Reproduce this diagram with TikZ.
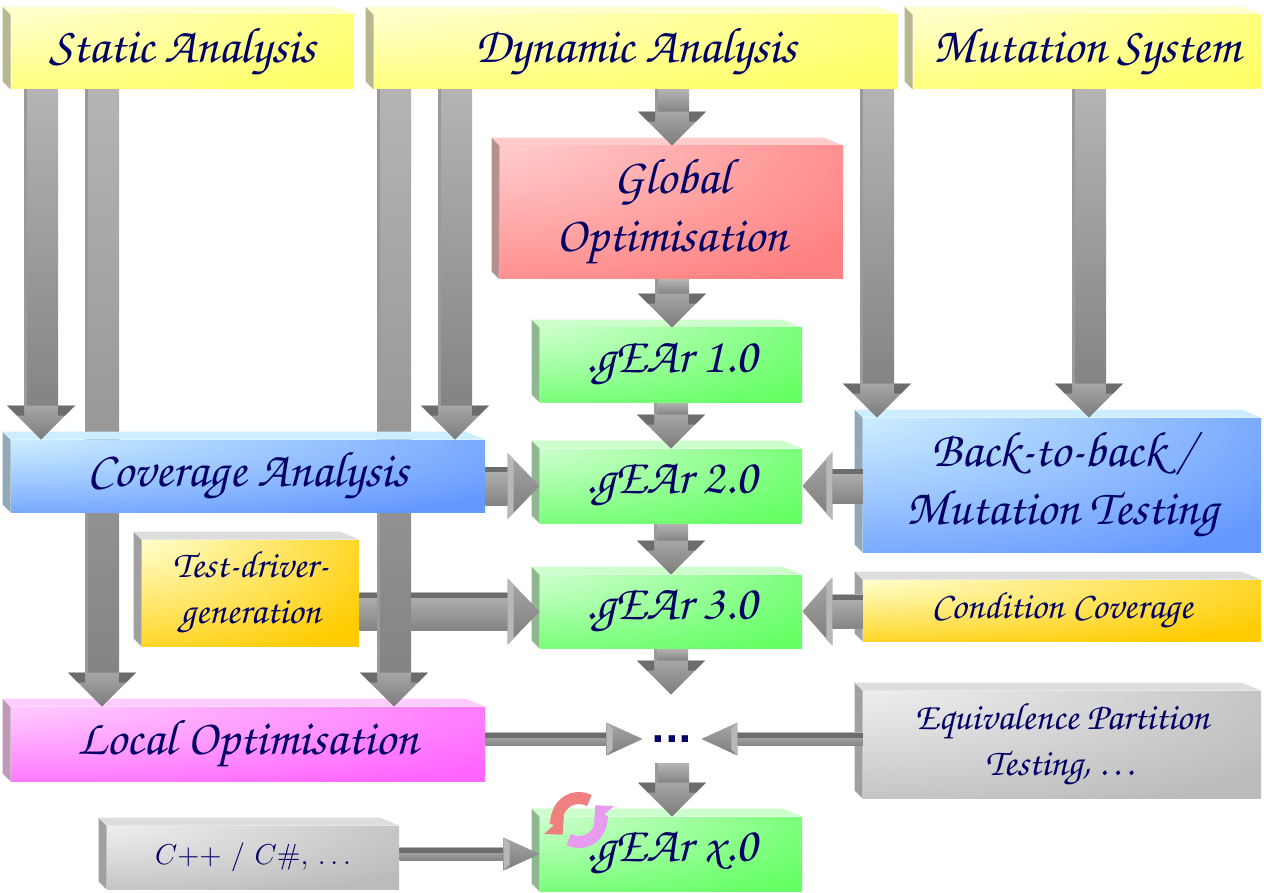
\documentclass[tikz,border=0pt]{standalone}
\usepackage[T1]{fontenc}
\usepackage{fontspec}
\usepackage{tikz}
\usetikzlibrary{calc,backgrounds,arrows.meta}

\newfontfamily\dotfont{DejaVu Sans}
\newcommand{\bigfont}{\fontsize{25}{29}\usefont{T1}{pzc}{mb}{it}}
\newcommand{\smallfont}{\fontsize{19}{23}\usefont{T1}{pzc}{mb}{it}}

\definecolor{ink}{HTML}{000066}
\definecolor{yellowlite}{HTML}{FFFFCC}\definecolor{yellowfull}{HTML}{FFFF66}\definecolor{yellowside}{HTML}{B8B890}
\definecolor{redlite}{HTML}{FFCCCC}\definecolor{redfull}{HTML}{FF8080}\definecolor{redside}{HTML}{B89090}
\definecolor{greenlite}{HTML}{CCFFCC}\definecolor{greenfull}{HTML}{66FF66}\definecolor{greenside}{HTML}{90B890}
\definecolor{bluelite}{HTML}{CCEEFF}\definecolor{bluefull}{HTML}{6699FF}\definecolor{blueside}{HTML}{90A8B8}
\definecolor{orangelite}{HTML}{FFFFCC}\definecolor{orangefull}{HTML}{FFCC00}
\definecolor{pinklite}{HTML}{FFCCFF}\definecolor{pinkfull}{HTML}{FF66FF}\definecolor{pinkside}{HTML}{C098B8}
\definecolor{silverlite}{HTML}{EEEEEE}\definecolor{silverfull}{HTML}{BBBBBB}
\definecolor{greyside}{HTML}{A0A0A0}\definecolor{greytop}{HTML}{DDDDDD}
\definecolor{shafttop}{HTML}{B4B4B4}\definecolor{shaftbot}{HTML}{848484}
\definecolor{headtop}{HTML}{A6A6A6}\definecolor{headbot}{HTML}{7C7C7C}
\definecolor{shoulder}{HTML}{6C6C6C}\definecolor{headback}{HTML}{B8B8B8}
\definecolor{shaftedge}{HTML}{9A9A9A}
\definecolor{spinred}{HTML}{F08080}\definecolor{spinpink}{HTML}{E89CF0}

\newcommand{\glowshading}[3]{\pgfdeclareradialshading{#1}{\pgfpoint{-35bp}{35bp}}{color(0bp)=(#2); color(10bp)=(#2); color(58bp)=(#3); color(150bp)=(#3)}}
\glowshading{yellowglow}{yellowlite}{yellowfull}
\glowshading{redglow}{redlite}{redfull}
\glowshading{greenglow}{greenlite}{greenfull}
\glowshading{blueglow}{bluelite}{bluefull}
\glowshading{orangeglow}{orangelite}{orangefull}
\glowshading{pinkglow}{pinklite}{pinkfull}
\glowshading{silverglow}{silverlite}{silverfull}

\tikzset{
  box/.style={inner sep=0pt, text=ink, align=center, font=\bigfont},
  small box/.style={box, font=\smallfont},
  glow/.style={shade, shading=#1},
  arrow shaft/.store in=\ashaft, arrow head/.store in=\ahead, arrow len/.store in=\alen,
  arrow shaft=8.5pt, arrow head=17pt, arrow len=17pt,
  wide/.style={arrow shaft=9.5pt, arrow head=16.5pt, arrow len=16pt},
  slim/.style={arrow shaft=3.25pt, arrow head=8.25pt, arrow len=18pt},
}

\newcommand{\faces}[3]{%
  \fill[#2] (#1.north west) -- ++(-4pt,4pt) -- ([shift={(-4pt,4pt)}]#1.south west) -- (#1.south west) -- cycle;
  \fill[#3] (#1.north west) -- ++(-4pt,4pt) -- ([shift={(-10pt,4pt)}]#1.north east) -- (#1.north east) -- cycle;}

\newcommand{\varrow}[3][]{%
  \begin{scope}[#1]
  \shade[top color=shafttop, bottom color=shaftbot] let \p1=#2, \p2=#3 in
    ({\x1-\ashaft},\y1) rectangle ({\x1+\ashaft},{\y2+\alen});
  \fill[shaftedge] let \p1=#2, \p2=#3 in ({\x1-\ashaft},\y1) rectangle ({\x1-\ashaft+1.5pt},{\y2+\alen});
  \shade[top color=headtop, bottom color=headbot] let \p1=#2, \p2=#3 in
    ({\x1-\ahead},{\y2+\alen}) -- ({\x1+\ahead},{\y2+\alen}) -- (\x1,\y2) -- cycle;
  \fill[shoulder] let \p1=#2, \p2=#3, \n2={5*\ahead/\alen} in
    ({\x1-\ahead},{\y2+\alen}) -- ({\x1-\ashaft},{\y2+\alen}) -- ({\x1-\ashaft},{\y2+\alen-5pt}) -- ({\x1-\ahead+\n2*1pt},{\y2+\alen-5pt}) -- cycle
    ({\x1+\ahead},{\y2+\alen}) -- ({\x1+\ashaft},{\y2+\alen}) -- ({\x1+\ashaft},{\y2+\alen-5pt}) -- ({\x1+\ahead-\n2*1pt},{\y2+\alen-5pt}) -- cycle;
  \end{scope}}

\newcommand{\harrow}[3][]{%
  \begin{scope}[#1]
  \shade[top color=shafttop, bottom color=shaftbot] let \p1=#2, \p2=#3, \n1={(\x2-\x1)/abs(\x2-\x1)}, \p3=({\x2-\n1*\alen},\y1) in
    (\x1,{\y1-\ashaft}) rectangle (\x3,{\y1+\ashaft});
  \fill[shoulder] let \p1=#2, \p2=#3, \n1={(\x2-\x1)/abs(\x2-\x1)}, \p3=({\x2-\n1*\alen},\y1) in
    (\x1,{\y1+\ashaft}) rectangle (\x3,{\y1+\ashaft-2.5pt});
  \shade[top color=headtop, bottom color=headbot] let \p1=#2, \p2=#3, \n1={(\x2-\x1)/abs(\x2-\x1)}, \p3=({\x2-\n1*\alen},\y1) in
    (\x3,{\y1+\ahead}) -- (\x2,\y1) -- (\x3,{\y1-\ahead}) -- cycle;
  \fill[headback] let \p1=#2, \p2=#3, \n1={(\x2-\x1)/abs(\x2-\x1)}, \p3=({\x2-\n1*\alen},\y1), \p4=({\x3+\n1*3pt},\y1) in
    (\x3,{\y1+\ahead}) -- (\x4,{\y1+\ahead-3pt}) -- (\x4,{\y1-\ahead+3pt}) -- (\x3,{\y1-\ahead}) -- cycle;
  \end{scope}}

\begin{document}
\begin{tikzpicture}[x=0.5pt,y=-0.5pt]
  \useasboundingbox (0,0) rectangle (1264,893);

  \node[box, glow=yellowglow, minimum width=171.5pt, minimum height=37pt] (static) at (182.5,52) {Static Analysis};
  \node[box, glow=yellowglow, minimum width=262pt, minimum height=37pt] (dyn) at (636,52) {Dynamic Analysis};
  \node[box, glow=yellowglow, minimum width=174pt, minimum height=37pt] (mut) at (1087,52) {Mutation System};
  \node[box, glow=redglow, minimum width=171.5pt, minimum height=66.5pt] (glob) at (671.5,212.5) {Global\\Optimisation};
  \node[box, glow=greenglow, minimum width=131pt, minimum height=37pt] (g1) at (671,365) {.gEAr 1.0};
  \node[box, glow=greenglow, minimum width=131pt, minimum height=37pt] (g2) at (671,486) {.gEAr 2.0};
  \node[box, glow=greenglow, minimum width=131pt, minimum height=36.5pt] (g3) at (671,611.5) {.gEAr 3.0};
  \node[box, glow=greenglow, minimum width=131pt, minimum height=37pt] (gx) at (671,854) {.gEAr x.0};
  \node[box, glow=blueglow, minimum width=237pt, minimum height=36pt] (cov) at (248,476) {Coverage Analysis};
  \node[box, glow=blueglow, minimum width=199pt, minimum height=67pt] (btb) at (1062,485) {Back-to-back /\\Mutation Testing};
  \node[small box, glow=orangeglow, minimum width=108.5pt, minimum height=53pt] (td) at (250.5,593) {Test-driver-\\generation};
  \node[small box, glow=orangeglow, minimum width=199pt, minimum height=30.5pt] (cond) at (1062,610.5) {Condition Coverage};
  \node[small box, glow=silverglow, minimum width=199pt, minimum height=53.5pt] (equiv) at (1062,744.5) {Equivalence Partition\\Testing, \ldots};
  \node[box, glow=pinkglow, minimum width=237pt, minimum height=37pt] (local) at (248,744) {Local Optimisation};
  \node[box, glow=silverglow, minimum width=146pt, minimum height=31.5pt, font=\fontsize{14.5}{18}\selectfont] (cpp) at (253,857.5) {$C$++ / $C$\#, $\ldots$};
  \node[text=ink, inner sep=0pt, minimum width=29pt, minimum height=34pt, font=\dotfont\bfseries\fontsize{18}{18}\selectfont] (dots) at (672,739) {...};

  \coordinate (spin) at (579,820);
  \draw[line width=6pt, spinred, -{Triangle[width=13pt,length=6.5pt]}] ([shift={(62:11pt)}]spin) arc[start angle=62, end angle=222, radius=11pt];
  \draw[line width=6pt, spinpink, -{Triangle[width=13pt,length=6.5pt]}] ([shift={(242:11pt)}]spin) arc[start angle=242, end angle=402, radius=11pt];

  \begin{scope}[on background layer]
    \fill[white] (0,0) rectangle (1264,893);
    \faces{static}{yellowside}{yellowlite}
    \faces{dyn}{yellowside}{yellowlite}
    \faces{mut}{yellowside}{yellowlite}
    \faces{glob}{redside}{redlite}
    \faces{g1}{greenside}{greenlite}
    \faces{g2}{greenside}{greenlite}
    \faces{g3}{greenside}{greenlite}
    \faces{gx}{greenside}{greenlite}
    \faces{btb}{blueside}{bluelite}
    \faces{td}{greyside}{greytop}
    \faces{cond}{greyside}{greytop}
    \faces{equiv}{greyside}{greytop}
    \faces{local}{pinkside}{pinklite}
    \faces{cpp}{greyside}{greytop}

    \harrow[wide]{(td.east |- g3.west)}{(g3.west)}
    \varrow{(static.south -| 102,0)}{(local.north -| 102,0)}
    \varrow{(dyn.south -| 394,0)}{(local.north -| 394,0)}
    \faces{cov}{blueside}{bluelite}

    \varrow{(static.south -| 41,0)}{(cov.north -| 41,0)}
    \varrow{(dyn.south -| 455,0)}{(cov.north -| 455,0)}
    \varrow{(dyn.south -| 672,0)}{(glob.north -| 672,0)}
    \varrow{(glob.south -| 672,0)}{(g1.north -| 672,0)}
    \varrow{(dyn.south -| 877,0)}{(btb.north -| 877,0)}
    \varrow{(mut.south -| 1089,0)}{(btb.north -| 1089,0)}
    \varrow{(g1.south)}{(g2.north)}
    \varrow{(g2.south)}{(g3.north)}
    \varrow{(g3.south)}{([yshift=5pt]dots.north)}
    \varrow{([yshift=5pt]dots.south)}{(gx.north)}

    \harrow[wide]{(cov.east |- g2.west)}{(g2.west)}
    \harrow[arrow len=15pt]{(btb.west |- g2.east)}{(g2.east)}
    \harrow[arrow len=15pt]{(cond.west |- g3.east)}{(g3.east)}
    \harrow[slim]{(local.east |- dots.west)}{(dots.west)}
    \harrow[slim]{(equiv.west |- dots.east)}{(dots.east)}
    \harrow[slim]{(cpp.east |- gx.west)}{(gx.west)}
  \end{scope}
\end{tikzpicture}
\end{document}
